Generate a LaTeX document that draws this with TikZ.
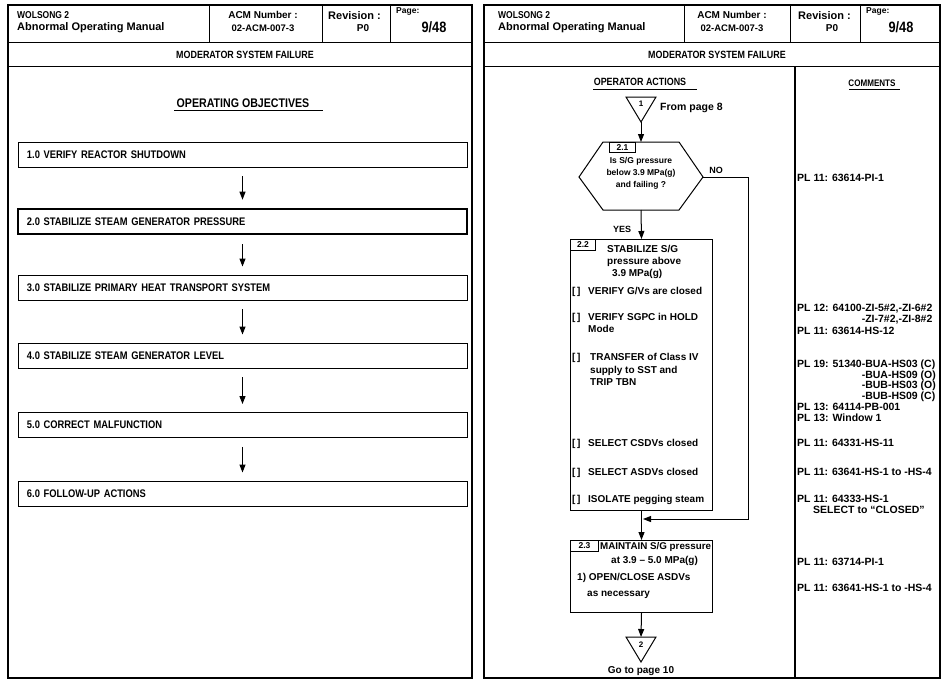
\documentclass[tikz,border=0pt]{standalone}
\usepackage{fontspec}
\setmainfont{Liberation Sans}
\newfontfamily\condf{Liberation Sans}[FakeStretch=0.85]
\usetikzlibrary{arrows.meta}
\tikzset{
  txt/.style={inner sep=0pt, font=\bfseries\fontsize{#1}{#1}\selectfont, text height=0.716*#1pt, text depth=0pt},
  ctxt/.style={inner sep=0pt, font=\condf\bfseries\fontsize{#1}{#1}\selectfont, text height=0.716*#1pt, text depth=0pt},
  pageframe/.style={line width=1.1pt},
  rule/.style={line width=0.9pt},
  objbox/.style={draw, line width=0.9pt, minimum height=25pt, text width=431pt, inner xsep=9pt, inner ysep=0pt, align=left, font=\condf\bfseries\fontsize{11}{11}\selectfont, text height=7.9pt, text depth=0pt},
  flow/.style={draw, line width=1pt},
  arr/.style={line width=1pt, -{Triangle[length=8pt,width=6pt]}},
  lbl/.style={draw, line width=0.9pt, inner sep=0pt, anchor=north west, font=\bfseries\fontsize{8.5}{8.5}\selectfont},
}
\begin{document}
\begin{tikzpicture}[x=1pt,y=-1pt]
\useasboundingbox (0,0) rectangle (942,681);
\fill[white] (0,0) rectangle (942,681);

% ================= LEFT PAGE =================
\draw[pageframe] (8,5) rectangle (472,678);
\draw[rule] (8,42) -- (472,42);
\draw[rule] (8,66) -- (472,66);
\draw[rule] (209,5) -- (209,42);
\draw[rule] (322,5) -- (322,42);
\draw[rule] (390,5) -- (390,42);

\node[ctxt=10, anchor=west] (lhw) at (17,15) {WOLSONG 2};
\node[txt=11, anchor=west] (lha) at (17,27) {Abnormal Operating Manual};
\node[txt=10] (lhn) at (263,15) {ACM Number :};
\node[txt=9.5] (lhc) at (263,28) {02-ACM-007-3};
\node[txt=11, anchor=west] (lhr) at (328,16) {Revision :};
\node[txt=10] (lhp) at (363,28) {P0};
\node[txt=8.5, anchor=west] (lhg) at (396,10) {Page:};
\node[ctxt=15] (lhpg) at (434,27) {9/48};
\node[ctxt=10.5] (lhtitle) at (245,55) {MODERATOR SYSTEM FAILURE};

\node[ctxt=12.5] (obj) at (243,103) {OPERATING OBJECTIVES};
\draw[rule] (174,110) -- (323,110);

\node[objbox] (o1) at (242.5,154.5) {1.0 VERIFY REACTOR SHUTDOWN};
\node[objbox, line width=2.6pt] (o2) at (242.5,221.5) {2.0 STABILIZE STEAM GENERATOR PRESSURE};
\node[objbox] (o3) at (242.5,287.5) {3.0 STABILIZE PRIMARY HEAT TRANSPORT SYSTEM};
\node[objbox] (o4) at (242.5,355.5) {4.0 STABILIZE STEAM GENERATOR LEVEL};
\node[objbox] (o5) at (242.5,425) {5.0 CORRECT MALFUNCTION};
\node[objbox] (o6) at (242.5,493.5) {6.0 FOLLOW-UP ACTIONS};

\draw[arr] ([yshift=-9pt]o1.south) -- ([yshift=8pt]o2.north);
\draw[arr] ([yshift=-9pt]o2.south) -- ([yshift=8pt]o3.north);
\draw[arr] ([yshift=-9pt]o3.south) -- ([yshift=8pt]o4.north);
\draw[arr] ([yshift=-9pt]o4.south) -- ([yshift=8pt]o5.north);
\draw[arr] ([yshift=-9pt]o5.south) -- ([yshift=8pt]o6.north);

% ================= RIGHT PAGE =================
\draw[pageframe] (484,5) rectangle (940,678);
\draw[line width=2.4pt] (484,5) -- (484,678);
\draw[rule] (484,42) -- (940,42);
\draw[rule] (484,66) -- (940,66);
\draw[rule] (684,5) -- (684,42);
\draw[rule] (790,5) -- (790,42);
\draw[rule] (860,5) -- (860,42);
\draw[line width=1.1pt] (795,66) -- (795,678);

\node[ctxt=10, anchor=west] (rhw) at (498,15) {WOLSONG 2};
\node[txt=11, anchor=west] (rha) at (498,27) {Abnormal Operating Manual};
\node[txt=10] (rhn) at (732,15) {ACM Number :};
\node[txt=9.5] (rhc) at (732,28) {02-ACM-007-3};
\node[txt=11, anchor=west] (rhr) at (798,16) {Revision :};
\node[txt=10] (rhp) at (832,28) {P0};
\node[txt=8.5, anchor=west] (rhg) at (866,10) {Page:};
\node[ctxt=15] (rhpg) at (901,27) {9/48};
\node[ctxt=10.5] (rhtitle) at (717,55) {MODERATOR SYSTEM FAILURE};

\node[ctxt=10.5] (opact) at (640,82) {OPERATOR ACTIONS};
\draw[rule] (593,89) -- (697,89);
\node[ctxt=9.5] (comm) at (872,83) {COMMENTS};
\draw[rule] (849,89) -- (900,89);

% triangle 1
\draw[flow] (626,97) -- (656,97) -- (641,122) -- cycle;
\coordinate (t1) at (641,122);
\node[txt=8] (t1n) at (641,104) {1};
\node[txt=10.5, anchor=west] (from) at (660,107) {From page 8};

% hexagon 2.1
\draw[flow] (603,142) -- (679,142) -- (703,177) -- (679,210) -- (603,210) -- (579,177) -- cycle;
\coordinate (hexT) at (641,142);
\coordinate (hexB) at (641,210);
\coordinate (hexR) at (703,177);
\node[lbl, minimum width=26pt, minimum height=10pt] (l21) at (609,142) {2.1};
\node[txt=8.5] (h1) at (641,160) {Is S/G pressure};
\node[txt=8.5] (h2) at (641,172) {below 3.9 MPa(g)};
\node[txt=8.5] (h3) at (641,184) {and failing ?};
\node[txt=9] (no) at (716,170) {NO};
\node[txt=9] (yes) at (622,229) {YES};

% box 2.2
\node[flow, anchor=north west, minimum width=142pt, minimum height=271pt, inner sep=0pt] (b22) at (570,239) {};
\node[lbl, minimum width=25pt, minimum height=11pt] (l22) at (570,239) {2.2};
\node[txt=10, anchor=west] (s1) at (607,249) {STABILIZE S/G};
\node[txt=10, anchor=west] (s2) at (607,261) {pressure above};
\node[txt=10, anchor=west] (s3) at (612,273) {3.9 MPa(g)};
\node[txt=10, anchor=west] (k1) at (572,291) {[\,]};
\node[txt=10, anchor=west] (s4) at (588,291) {VERIFY G/Vs are closed};
\node[txt=10, anchor=west] (k2) at (572,317) {[\,]};
\node[txt=10, anchor=west] (s5) at (588,317) {VERIFY SGPC in HOLD};
\node[txt=10, anchor=west] (s6) at (588,329) {Mode};
\node[txt=10, anchor=west] (k3) at (572,357) {[\,]};
\node[txt=10, anchor=west] (s7) at (590,357) {TRANSFER of Class IV};
\node[txt=10, anchor=west] (s8) at (590,370) {supply to SST and};
\node[txt=10, anchor=west] (s9) at (590,382) {TRIP TBN};
\node[txt=10, anchor=west] (k4) at (572,443) {[\,]};
\node[txt=10, anchor=west] (s10) at (588,443) {SELECT CSDVs closed};
\node[txt=10, anchor=west] (k5) at (572,472) {[\,]};
\node[txt=10, anchor=west] (s11) at (588,472) {SELECT ASDVs closed};
\node[txt=10, anchor=west] (k6) at (572,499) {[\,]};
\node[txt=10, anchor=west] (s12) at (588,499) {ISOLATE pegging steam};

% box 2.3
\node[flow, anchor=north west, minimum width=142pt, minimum height=72pt, inner sep=0pt] (b23) at (570,540) {};
\node[lbl, minimum width=28pt, minimum height=11pt] (l23) at (570,540) {2.3};
\node[txt=9.8, anchor=west] (m1) at (600,546) {MAINTAIN S/G pressure};
\node[txt=10, anchor=west] (m2) at (611,560) {at 3.9 -- 5.0 MPa(g)};
\node[txt=10, anchor=west] (m3) at (577,577) {1) OPEN/CLOSE ASDVs};
\node[txt=10, anchor=west] (m4) at (587,593) {as necessary};

% triangle 2
\draw[flow] (626,637) -- (656,637) -- (641,662) -- cycle;
\coordinate (t2) at (641,637);
\node[txt=8] (t2n) at (641,645) {2};
\node[txt=10] (goto) at (641,670) {Go to page 10};

% connectors
\coordinate (nocorner) at (748,177);
\coordinate (join) at (643,519);
\draw[arr] (t1) -- (hexT);
\draw[arr] (hexB) -- (b22.north);
\draw[arr] (hexR) -- (nocorner) |- (join);
\draw[arr] (b22.south) -- (b23.north);
\draw[arr] (b23.south) -- (t2);

% comments
\node[txt=10.5, anchor=west] (c1) at (797,178) {PL 11: 63614-PI-1};
\node[txt=10.5, anchor=west] (c2) at (797,308) {PL 12: 64100-ZI-5\#2,-ZI-6\#2};
\node[txt=10.5, anchor=west] (c3) at (797,319) {\phantom{PL 12: 64100}-ZI-7\#2,-ZI-8\#2};
\node[txt=10.5, anchor=west] (c4) at (797,331) {PL 11: 63614-HS-12};
\node[txt=10.5, anchor=west] (c5) at (797,364) {PL 19: 51340-BUA-HS03 (C)};
\node[txt=10.5, anchor=west] (c6) at (797,375) {\phantom{PL 19: 51340}-BUA-HS09 (O)};
\node[txt=10.5, anchor=west] (c7) at (797,385) {\phantom{PL 19: 51340}-BUB-HS03 (O)};
\node[txt=10.5, anchor=west] (c8) at (797,396) {\phantom{PL 19: 51340}-BUB-HS09 (C)};
\node[txt=10.5, anchor=west] (c9) at (797,407) {PL 13: 64114-PB-001};
\node[txt=10.5, anchor=west] (c10) at (797,418) {PL 13: Window 1};
\node[txt=10.5, anchor=west] (c11) at (797,443) {PL 11: 64331-HS-11};
\node[txt=10.5, anchor=west] (c12) at (797,472) {PL 11: 63641-HS-1 to -HS-4};
\node[txt=10.5, anchor=west] (c13) at (797,499) {PL 11: 64333-HS-1};
\node[txt=10.5, anchor=west] (c14) at (813,510) {SELECT to “CLOSED”};
\node[txt=10.5, anchor=west] (c15) at (797,562) {PL 11: 63714-PI-1};
\node[txt=10.5, anchor=west] (c16) at (797,588) {PL 11: 63641-HS-1 to -HS-4};
\end{tikzpicture}
\end{document}
